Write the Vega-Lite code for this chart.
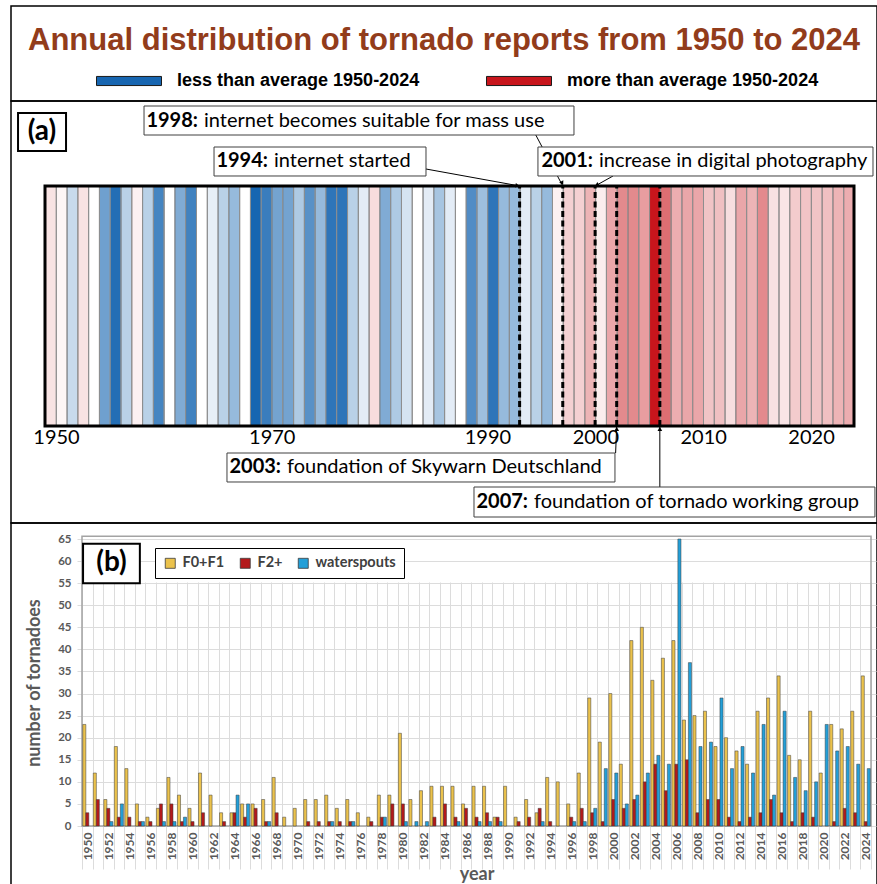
{
  "$schema": "https://vega.github.io/schema/vega-lite/v6.json",
  "background": "white",
  "padding": {"left": 10, "top": 5, "right": 0, "bottom": 0},
  "spacing": 0,
  "bounds": "flush",
  "resolve": {"scale": {"color": "independent", "fillOpacity": "independent"}, "legend": {"color": "independent"}},
  "config": {"font": "Lato", "view": {"stroke": "black", "strokeWidth": 1.5}, "axisY": {"labelOverlap": false}},
  "datasets": {
    "stripes": [
      {"year":1950,"category":"more than average 1950-2024","intensity":0.12},
      {"year":1951,"category":"more than average 1950-2024","intensity":0.04},
      {"year":1952,"category":"less than average 1950-2024","intensity":0.24},
      {"year":1953,"category":"more than average 1950-2024","intensity":0.12},
      {"year":1954,"category":"less than average 1950-2024","intensity":0},
      {"year":1955,"category":"less than average 1950-2024","intensity":0.62},
      {"year":1956,"category":"less than average 1950-2024","intensity":0.95},
      {"year":1957,"category":"less than average 1950-2024","intensity":0.3},
      {"year":1958,"category":"more than average 1950-2024","intensity":0.06},
      {"year":1959,"category":"less than average 1950-2024","intensity":0.3},
      {"year":1960,"category":"less than average 1950-2024","intensity":0.8},
      {"year":1961,"category":"less than average 1950-2024","intensity":0},
      {"year":1962,"category":"less than average 1950-2024","intensity":0.55},
      {"year":1963,"category":"less than average 1950-2024","intensity":0.82},
      {"year":1964,"category":"less than average 1950-2024","intensity":0},
      {"year":1965,"category":"less than average 1950-2024","intensity":0.1},
      {"year":1966,"category":"less than average 1950-2024","intensity":0.3},
      {"year":1967,"category":"less than average 1950-2024","intensity":0.45},
      {"year":1968,"category":"less than average 1950-2024","intensity":0},
      {"year":1969,"category":"less than average 1950-2024","intensity":1.0},
      {"year":1970,"category":"less than average 1950-2024","intensity":0.85},
      {"year":1971,"category":"less than average 1950-2024","intensity":0.6},
      {"year":1972,"category":"less than average 1950-2024","intensity":0.6},
      {"year":1973,"category":"less than average 1950-2024","intensity":0.35},
      {"year":1974,"category":"less than average 1950-2024","intensity":0.72},
      {"year":1975,"category":"less than average 1950-2024","intensity":0.45},
      {"year":1976,"category":"less than average 1950-2024","intensity":0.9},
      {"year":1977,"category":"less than average 1950-2024","intensity":0.9},
      {"year":1978,"category":"less than average 1950-2024","intensity":0.3},
      {"year":1979,"category":"less than average 1950-2024","intensity":0.12},
      {"year":1980,"category":"more than average 1950-2024","intensity":0.15},
      {"year":1981,"category":"less than average 1950-2024","intensity":0.55},
      {"year":1982,"category":"less than average 1950-2024","intensity":0.35},
      {"year":1983,"category":"less than average 1950-2024","intensity":0.18},
      {"year":1984,"category":"less than average 1950-2024","intensity":0},
      {"year":1985,"category":"less than average 1950-2024","intensity":0.12},
      {"year":1986,"category":"less than average 1950-2024","intensity":0.38},
      {"year":1987,"category":"less than average 1950-2024","intensity":0.12},
      {"year":1988,"category":"less than average 1950-2024","intensity":0},
      {"year":1989,"category":"less than average 1950-2024","intensity":0.75},
      {"year":1990,"category":"less than average 1950-2024","intensity":0.42},
      {"year":1991,"category":"less than average 1950-2024","intensity":0.9},
      {"year":1992,"category":"less than average 1950-2024","intensity":0.45},
      {"year":1993,"category":"less than average 1950-2024","intensity":0.45},
      {"year":1994,"category":"less than average 1950-2024","intensity":0.12},
      {"year":1995,"category":"less than average 1950-2024","intensity":0.3},
      {"year":1996,"category":"less than average 1950-2024","intensity":0.45},
      {"year":1997,"category":"more than average 1950-2024","intensity":0.06},
      {"year":1998,"category":"more than average 1950-2024","intensity":0.2},
      {"year":1999,"category":"more than average 1950-2024","intensity":0.2},
      {"year":2000,"category":"more than average 1950-2024","intensity":0.32},
      {"year":2001,"category":"more than average 1950-2024","intensity":0.08},
      {"year":2002,"category":"more than average 1950-2024","intensity":0.38},
      {"year":2003,"category":"more than average 1950-2024","intensity":0.5},
      {"year":2004,"category":"more than average 1950-2024","intensity":0.5},
      {"year":2005,"category":"more than average 1950-2024","intensity":0.42},
      {"year":2006,"category":"more than average 1950-2024","intensity":1.0},
      {"year":2007,"category":"more than average 1950-2024","intensity":0.62},
      {"year":2008,"category":"more than average 1950-2024","intensity":0.35},
      {"year":2009,"category":"more than average 1950-2024","intensity":0.38},
      {"year":2010,"category":"more than average 1950-2024","intensity":0.38},
      {"year":2011,"category":"more than average 1950-2024","intensity":0.25},
      {"year":2012,"category":"more than average 1950-2024","intensity":0.27},
      {"year":2013,"category":"more than average 1950-2024","intensity":0.14},
      {"year":2014,"category":"more than average 1950-2024","intensity":0.38},
      {"year":2015,"category":"more than average 1950-2024","intensity":0.32},
      {"year":2016,"category":"more than average 1950-2024","intensity":0.5},
      {"year":2017,"category":"more than average 1950-2024","intensity":0.13},
      {"year":2018,"category":"more than average 1950-2024","intensity":0.11},
      {"year":2019,"category":"more than average 1950-2024","intensity":0.22},
      {"year":2020,"category":"more than average 1950-2024","intensity":0.25},
      {"year":2021,"category":"more than average 1950-2024","intensity":0.25},
      {"year":2022,"category":"more than average 1950-2024","intensity":0.27},
      {"year":2023,"category":"more than average 1950-2024","intensity":0.32},
      {"year":2024,"category":"more than average 1950-2024","intensity":0.35}
    ],
    "events": [
      {"year":1994,"event":"internet started"},
      {"year":1998,"event":"internet becomes suitable for mass use"},
      {"year":2001,"event":"increase in digital photography"},
      {"year":2003,"event":"foundation of Skywarn Deutschland"},
      {"year":2007,"event":"foundation of tornado working group"}
    ],
    "bars": [
      {"year":1950,"type":"F0+F1","count":23},{"year":1950,"type":"F2+","count":3},
      {"year":1951,"type":"F0+F1","count":12},{"year":1951,"type":"F2+","count":6},
      {"year":1952,"type":"F0+F1","count":6},{"year":1952,"type":"F2+","count":4},{"year":1952,"type":"waterspouts","count":1},
      {"year":1953,"type":"F0+F1","count":18},{"year":1953,"type":"F2+","count":2},{"year":1953,"type":"waterspouts","count":5},
      {"year":1954,"type":"F0+F1","count":13},{"year":1954,"type":"F2+","count":2},
      {"year":1955,"type":"F0+F1","count":5},{"year":1955,"type":"F2+","count":1},{"year":1955,"type":"waterspouts","count":1},
      {"year":1956,"type":"F0+F1","count":2},{"year":1956,"type":"F2+","count":1},
      {"year":1957,"type":"F0+F1","count":4},{"year":1957,"type":"F2+","count":5},{"year":1957,"type":"waterspouts","count":1},
      {"year":1958,"type":"F0+F1","count":11},{"year":1958,"type":"F2+","count":5},{"year":1958,"type":"waterspouts","count":1},
      {"year":1959,"type":"F0+F1","count":7},{"year":1959,"type":"F2+","count":1},{"year":1959,"type":"waterspouts","count":2},
      {"year":1960,"type":"F0+F1","count":4},{"year":1960,"type":"F2+","count":1},
      {"year":1961,"type":"F0+F1","count":12},{"year":1961,"type":"F2+","count":3},
      {"year":1962,"type":"F0+F1","count":7},
      {"year":1963,"type":"F0+F1","count":3},{"year":1963,"type":"F2+","count":1},
      {"year":1964,"type":"F0+F1","count":3},{"year":1964,"type":"F2+","count":3},{"year":1964,"type":"waterspouts","count":7},
      {"year":1965,"type":"F0+F1","count":5},{"year":1965,"type":"F2+","count":2},{"year":1965,"type":"waterspouts","count":5},
      {"year":1966,"type":"F0+F1","count":5},{"year":1966,"type":"F2+","count":4},
      {"year":1967,"type":"F0+F1","count":6},{"year":1967,"type":"F2+","count":1},{"year":1967,"type":"waterspouts","count":1},
      {"year":1968,"type":"F0+F1","count":11},{"year":1968,"type":"F2+","count":3},
      {"year":1969,"type":"F0+F1","count":2},
      {"year":1970,"type":"F0+F1","count":4},
      {"year":1971,"type":"F0+F1","count":6},{"year":1971,"type":"F2+","count":1},
      {"year":1972,"type":"F0+F1","count":6},{"year":1972,"type":"F2+","count":1},
      {"year":1973,"type":"F0+F1","count":7},{"year":1973,"type":"F2+","count":1},{"year":1973,"type":"waterspouts","count":1},
      {"year":1974,"type":"F0+F1","count":4},{"year":1974,"type":"F2+","count":1},
      {"year":1975,"type":"F0+F1","count":6},{"year":1975,"type":"F2+","count":1},{"year":1975,"type":"waterspouts","count":1},
      {"year":1976,"type":"F0+F1","count":3},
      {"year":1977,"type":"F0+F1","count":2},{"year":1977,"type":"F2+","count":1},
      {"year":1978,"type":"F0+F1","count":7},{"year":1978,"type":"F2+","count":2},{"year":1978,"type":"waterspouts","count":2},
      {"year":1979,"type":"F0+F1","count":7},{"year":1979,"type":"F2+","count":5},
      {"year":1980,"type":"F0+F1","count":21},{"year":1980,"type":"F2+","count":5},{"year":1980,"type":"waterspouts","count":1},
      {"year":1981,"type":"F0+F1","count":6},{"year":1981,"type":"waterspouts","count":1},
      {"year":1982,"type":"F0+F1","count":8},{"year":1982,"type":"waterspouts","count":1},
      {"year":1983,"type":"F0+F1","count":9},{"year":1983,"type":"F2+","count":2},
      {"year":1984,"type":"F0+F1","count":9},{"year":1984,"type":"F2+","count":5},
      {"year":1985,"type":"F0+F1","count":9},{"year":1985,"type":"F2+","count":2},{"year":1985,"type":"waterspouts","count":1},
      {"year":1986,"type":"F0+F1","count":5},{"year":1986,"type":"F2+","count":4},
      {"year":1987,"type":"F0+F1","count":9},{"year":1987,"type":"F2+","count":2},{"year":1987,"type":"waterspouts","count":1},
      {"year":1988,"type":"F0+F1","count":9},{"year":1988,"type":"F2+","count":3},{"year":1988,"type":"waterspouts","count":1},
      {"year":1989,"type":"F0+F1","count":2},{"year":1989,"type":"F2+","count":2},{"year":1989,"type":"waterspouts","count":1},
      {"year":1990,"type":"F0+F1","count":9},
      {"year":1991,"type":"F0+F1","count":2},{"year":1991,"type":"F2+","count":1},
      {"year":1992,"type":"F0+F1","count":6},{"year":1992,"type":"F2+","count":2},
      {"year":1993,"type":"F0+F1","count":3},{"year":1993,"type":"F2+","count":4},{"year":1993,"type":"waterspouts","count":1},
      {"year":1994,"type":"F0+F1","count":11},{"year":1994,"type":"F2+","count":1},
      {"year":1995,"type":"F0+F1","count":10},
      {"year":1996,"type":"F0+F1","count":5},{"year":1996,"type":"F2+","count":2},{"year":1996,"type":"waterspouts","count":1},
      {"year":1997,"type":"F0+F1","count":12},{"year":1997,"type":"F2+","count":4},{"year":1997,"type":"waterspouts","count":1},
      {"year":1998,"type":"F0+F1","count":29},{"year":1998,"type":"F2+","count":3},{"year":1998,"type":"waterspouts","count":4},
      {"year":1999,"type":"F0+F1","count":19},{"year":1999,"type":"F2+","count":1},{"year":1999,"type":"waterspouts","count":13},
      {"year":2000,"type":"F0+F1","count":30},{"year":2000,"type":"F2+","count":6},{"year":2000,"type":"waterspouts","count":12},
      {"year":2001,"type":"F0+F1","count":14},{"year":2001,"type":"F2+","count":4},{"year":2001,"type":"waterspouts","count":5},
      {"year":2002,"type":"F0+F1","count":42},{"year":2002,"type":"F2+","count":6},{"year":2002,"type":"waterspouts","count":7},
      {"year":2003,"type":"F0+F1","count":45},{"year":2003,"type":"F2+","count":10},{"year":2003,"type":"waterspouts","count":12},
      {"year":2004,"type":"F0+F1","count":33},{"year":2004,"type":"F2+","count":14},{"year":2004,"type":"waterspouts","count":16},
      {"year":2005,"type":"F0+F1","count":38},{"year":2005,"type":"F2+","count":8},{"year":2005,"type":"waterspouts","count":14},
      {"year":2006,"type":"F0+F1","count":42},{"year":2006,"type":"F2+","count":14},{"year":2006,"type":"waterspouts","count":65},
      {"year":2007,"type":"F0+F1","count":24},{"year":2007,"type":"F2+","count":15},{"year":2007,"type":"waterspouts","count":37},
      {"year":2008,"type":"F0+F1","count":25},{"year":2008,"type":"F2+","count":3},{"year":2008,"type":"waterspouts","count":18},
      {"year":2009,"type":"F0+F1","count":26},{"year":2009,"type":"F2+","count":6},{"year":2009,"type":"waterspouts","count":19},
      {"year":2010,"type":"F0+F1","count":18},{"year":2010,"type":"F2+","count":6},{"year":2010,"type":"waterspouts","count":29},
      {"year":2011,"type":"F0+F1","count":20},{"year":2011,"type":"F2+","count":2},{"year":2011,"type":"waterspouts","count":13},
      {"year":2012,"type":"F0+F1","count":17},{"year":2012,"type":"F2+","count":1},{"year":2012,"type":"waterspouts","count":18},
      {"year":2013,"type":"F0+F1","count":14},{"year":2013,"type":"F2+","count":2},{"year":2013,"type":"waterspouts","count":12},
      {"year":2014,"type":"F0+F1","count":26},{"year":2014,"type":"F2+","count":3},{"year":2014,"type":"waterspouts","count":23},
      {"year":2015,"type":"F0+F1","count":29},{"year":2015,"type":"F2+","count":6},{"year":2015,"type":"waterspouts","count":7},
      {"year":2016,"type":"F0+F1","count":34},{"year":2016,"type":"F2+","count":3},{"year":2016,"type":"waterspouts","count":26},
      {"year":2017,"type":"F0+F1","count":16},{"year":2017,"type":"F2+","count":1},{"year":2017,"type":"waterspouts","count":11},
      {"year":2018,"type":"F0+F1","count":15},{"year":2018,"type":"F2+","count":3},{"year":2018,"type":"waterspouts","count":8},
      {"year":2019,"type":"F0+F1","count":26},{"year":2019,"type":"F2+","count":2},{"year":2019,"type":"waterspouts","count":10},
      {"year":2020,"type":"F0+F1","count":12},{"year":2020,"type":"waterspouts","count":23},
      {"year":2021,"type":"F0+F1","count":23},{"year":2021,"type":"F2+","count":1},{"year":2021,"type":"waterspouts","count":17},
      {"year":2022,"type":"F0+F1","count":22},{"year":2022,"type":"F2+","count":4},{"year":2022,"type":"waterspouts","count":18},
      {"year":2023,"type":"F0+F1","count":26},{"year":2023,"type":"F2+","count":3},{"year":2023,"type":"waterspouts","count":14},
      {"year":2024,"type":"F0+F1","count":34},{"year":2024,"type":"F2+","count":1},{"year":2024,"type":"waterspouts","count":13}
    ]
  },
  "vconcat": [
    {
      "width": 866,
      "height": 95,
      "data": {"values": [{"title": "Annual distribution of tornado reports from 1950 to 2024"}]},
      "mark": {"type": "text", "font": "Liberation Sans", "fontSize": 31, "fontWeight": "bold", "color": "#923c1b", "baseline": "middle"},
      "encoding": {
        "x": {"datum": 0.5, "type": "quantitative", "scale": {"domain": [0, 1], "nice": false, "zero": false}, "axis": null},
        "y": {"datum": 0.632, "type": "quantitative", "scale": {"domain": [0, 1], "nice": false, "zero": false}, "axis": null},
        "text": {"field": "title", "type": "nominal"}
      }
    },
    {
      "width": 866,
      "height": 422,
      "layer": [
        {
          "data": {"name": "stripes"},
          "mark": {"type": "rect", "stroke": "#8f8f8f", "strokeWidth": 1},
          "encoding": {
            "x": {"field": "year", "type": "quantitative", "bin": {"step": 1, "extent": [1950, 2025]},
                  "scale": {"domain": [1950, 2025], "range": [34, 843], "nice": false, "zero": false},
                  "axis": {"values": [1950, 1970, 1990, 2000, 2010, 2020], "format": "d", "labelOffset": 11, "labelFont": "Lato", "labelFontSize": 20, "labelColor": "black", "labelPadding": 1, "labelFlush": false, "labelOverlap": false, "domain": false, "ticks": false, "grid": false, "offset": -97, "title": null}},
            "y": {"datum": 0, "type": "quantitative", "scale": {"domain": [0, 1], "range": [325, 85], "nice": false, "zero": false}, "axis": null},
            "y2": {"datum": 1},
            "color": {"field": "category", "type": "nominal",
                      "scale": {"domain": ["less than average 1950-2024", "more than average 1950-2024"], "range": ["#1766b1", "#c8151c"]},
                      "legend": {"orient": "none", "legendX": 85, "legendY": -53, "direction": "horizontal", "title": null, "symbolType": "M-1,-0.14H1V0.14H-1Z", "symbolSize": 4225, "symbolStrokeColor": "#1a1a1a", "symbolStrokeWidth": 1, "labelFont": "Liberation Sans", "labelFontSize": 18, "labelFontWeight": "bold", "labelColor": "black", "labelOffset": 15, "columnPadding": 64, "labelLimit": 400}},
            "fillOpacity": {"field": "intensity", "type": "quantitative", "scale": {"domain": [0, 1], "range": [0, 1]}, "legend": null}
          }
        },
        {
          "data": {"values": [{"panel": "(a)"}]},
          "layer": [
            {"mark": {"type": "rect", "filled": false, "stroke": "black", "strokeWidth": 3},
             "encoding": {"x": {"datum": 1950, "type": "quantitative"}, "x2": {"datum": 2025}, "y": {"datum": 0, "type": "quantitative", "axis": null}, "y2": {"datum": 1}}},
            {"mark": {"type": "rect", "fill": "white", "stroke": "black", "strokeWidth": 2},
             "encoding": {"x": {"datum": 1947.5, "type": "quantitative"}, "x2": {"datum": 1951.95}, "y": {"datum": 1.304, "type": "quantitative", "axis": null}, "y2": {"datum": 1.146}}},
            {"mark": {"type": "text", "align": "center", "baseline": "middle", "fontSize": 28, "fontWeight": "bold", "color": "black"},
             "encoding": {"x": {"datum": 1949.72, "type": "quantitative"}, "y": {"datum": 1.225, "type": "quantitative", "axis": null}, "text": {"field": "panel", "type": "nominal"}}}
          ]
        },
        {
          "data": {"name": "events"},
          "mark": {"type": "rule", "color": "black", "strokeWidth": 3, "strokeDash": [6, 3.5]},
          "encoding": {"x": {"field": "year", "type": "quantitative"}, "y": {"datum": 0, "type": "quantitative", "axis": null}, "y2": {"datum": 1}}
        },
        {
          "data": {"name": "events"},
          "transform": [{"filter": "datum.year == 1998"}],
          "layer": [
            {"mark": {"type": "rule", "color": "black", "strokeWidth": 1},
             "encoding": {"x": {"datum": 1995.5, "type": "quantitative"}, "x2": {"datum": 1998}, "y": {"datum": 1.2125, "type": "quantitative", "axis": null}, "y2": {"datum": 1.0}}},
            {"mark": {"type": "point", "shape": "triangle-down", "filled": true, "color": "black", "size": 22, "angle": 332, "opacity": 1},
             "encoding": {"x": {"datum": 1997.95, "type": "quantitative"}, "y": {"datum": 1.012, "type": "quantitative", "axis": null}}},
            {"mark": {"type": "rect", "fill": "white", "stroke": "#404040", "strokeWidth": 1},
             "encoding": {"x": {"datum": 1959.18, "type": "quantitative"}, "x2": {"datum": 1999.04}, "y": {"datum": 1.3333, "type": "quantitative", "axis": null}, "y2": {"datum": 1.2125}}},
            {"mark": {"type": "text", "align": "right", "baseline": "middle", "fontSize": 20, "fontWeight": "bold", "color": "black"},
             "encoding": {"x": {"datum": 1964.18, "type": "quantitative"}, "y": {"datum": 1.2729, "type": "quantitative", "axis": null}, "text": {"value": "1998:"}}},
            {"mark": {"type": "text", "align": "left", "baseline": "middle", "dx": 6, "fontSize": 20, "color": "black"},
             "encoding": {"x": {"datum": 1964.18, "type": "quantitative"}, "y": {"datum": 1.2729, "type": "quantitative", "axis": null}, "text": {"field": "event", "type": "nominal"}}}
          ]
        },
        {
          "data": {"name": "events"},
          "transform": [{"filter": "datum.year == 1994"}],
          "layer": [
            {"mark": {"type": "rule", "color": "black", "strokeWidth": 1},
             "encoding": {"x": {"datum": 1985.32, "type": "quantitative"}, "x2": {"datum": 1994}, "y": {"datum": 1.0708, "type": "quantitative", "axis": null}, "y2": {"datum": 1.0}}},
            {"mark": {"type": "point", "shape": "triangle-down", "filled": true, "color": "black", "size": 22, "angle": 280, "opacity": 1},
             "encoding": {"x": {"datum": 1993.8, "type": "quantitative"}, "y": {"datum": 1.0017, "type": "quantitative", "axis": null}}},
            {"mark": {"type": "rect", "fill": "white", "stroke": "#404040", "strokeWidth": 1},
             "encoding": {"x": {"datum": 1965.67, "type": "quantitative"}, "x2": {"datum": 1985.32}, "y": {"datum": 1.1625, "type": "quantitative", "axis": null}, "y2": {"datum": 1.0417}}},
            {"mark": {"type": "text", "align": "right", "baseline": "middle", "fontSize": 20, "fontWeight": "bold", "color": "black"},
             "encoding": {"x": {"datum": 1970.67, "type": "quantitative"}, "y": {"datum": 1.1021, "type": "quantitative", "axis": null}, "text": {"value": "1994:"}}},
            {"mark": {"type": "text", "align": "left", "baseline": "middle", "dx": 6, "fontSize": 20, "color": "black"},
             "encoding": {"x": {"datum": 1970.67, "type": "quantitative"}, "y": {"datum": 1.1021, "type": "quantitative", "axis": null}, "text": {"field": "event", "type": "nominal"}}}
          ]
        },
        {
          "data": {"name": "events"},
          "transform": [{"filter": "datum.year == 2001"}],
          "layer": [
            {"mark": {"type": "rule", "color": "black", "strokeWidth": 1},
             "encoding": {"x": {"datum": 2002.66, "type": "quantitative"}, "x2": {"datum": 2001}, "y": {"datum": 1.0417, "type": "quantitative", "axis": null}, "y2": {"datum": 1.0}}},
            {"mark": {"type": "point", "shape": "triangle-down", "filled": true, "color": "black", "size": 22, "angle": 61, "opacity": 1},
             "encoding": {"x": {"datum": 2001.15, "type": "quantitative"}, "y": {"datum": 1.004, "type": "quantitative", "axis": null}}},
            {"mark": {"type": "rect", "fill": "white", "stroke": "#404040", "strokeWidth": 1},
             "encoding": {"x": {"datum": 1995.7, "type": "quantitative"}, "x2": {"datum": 2026.76}, "y": {"datum": 1.1625, "type": "quantitative", "axis": null}, "y2": {"datum": 1.0417}}},
            {"mark": {"type": "text", "align": "right", "baseline": "middle", "fontSize": 20, "fontWeight": "bold", "color": "black"},
             "encoding": {"x": {"datum": 2000.8, "type": "quantitative"}, "y": {"datum": 1.1021, "type": "quantitative", "axis": null}, "text": {"value": "2001:"}}},
            {"mark": {"type": "text", "align": "left", "baseline": "middle", "dx": 6, "fontSize": 20, "color": "black"},
             "encoding": {"x": {"datum": 2000.8, "type": "quantitative"}, "y": {"datum": 1.1021, "type": "quantitative", "axis": null}, "text": {"field": "event", "type": "nominal"}}}
          ]
        },
        {
          "data": {"name": "events"},
          "transform": [{"filter": "datum.year == 2003"}],
          "layer": [
            {"mark": {"type": "rule", "color": "black", "strokeWidth": 1},
             "encoding": {"x": {"datum": 2002.9, "type": "quantitative"}, "x2": {"datum": 2003}, "y": {"datum": -0.1125, "type": "quantitative", "axis": null}, "y2": {"datum": 0}}},
            {"mark": {"type": "point", "shape": "triangle-up", "filled": true, "color": "black", "size": 22, "opacity": 1},
             "encoding": {"x": {"datum": 2003, "type": "quantitative"}, "y": {"datum": -0.012, "type": "quantitative", "axis": null}}},
            {"mark": {"type": "rect", "fill": "white", "stroke": "#404040", "strokeWidth": 1},
             "encoding": {"x": {"datum": 1966.87, "type": "quantitative"}, "x2": {"datum": 2002.84}, "y": {"datum": -0.1125, "type": "quantitative", "axis": null}, "y2": {"datum": -0.2333}}},
            {"mark": {"type": "text", "align": "right", "baseline": "middle", "fontSize": 20, "fontWeight": "bold", "color": "black"},
             "encoding": {"x": {"datum": 1971.88, "type": "quantitative"}, "y": {"datum": -0.1729, "type": "quantitative", "axis": null}, "text": {"value": "2003:"}}},
            {"mark": {"type": "text", "align": "left", "baseline": "middle", "dx": 6, "fontSize": 20, "color": "black"},
             "encoding": {"x": {"datum": 1971.88, "type": "quantitative"}, "y": {"datum": -0.1729, "type": "quantitative", "axis": null}, "text": {"field": "event", "type": "nominal"}}}
          ]
        },
        {
          "data": {"name": "events"},
          "transform": [{"filter": "datum.year == 2007"}],
          "layer": [
            {"mark": {"type": "rule", "color": "black", "strokeWidth": 1},
             "encoding": {"x": {"datum": 2007, "type": "quantitative"}, "x2": {"datum": 2007}, "y": {"datum": -0.2542, "type": "quantitative", "axis": null}, "y2": {"datum": 0}}},
            {"mark": {"type": "point", "shape": "triangle-up", "filled": true, "color": "black", "size": 22, "opacity": 1},
             "encoding": {"x": {"datum": 2007, "type": "quantitative"}, "y": {"datum": -0.012, "type": "quantitative", "axis": null}}},
            {"mark": {"type": "rect", "fill": "white", "stroke": "#404040", "strokeWidth": 1},
             "encoding": {"x": {"datum": 1989.77, "type": "quantitative"}, "x2": {"datum": 2026.94}, "y": {"datum": -0.2542, "type": "quantitative", "axis": null}, "y2": {"datum": -0.3792}}},
            {"mark": {"type": "text", "align": "right", "baseline": "middle", "fontSize": 20, "fontWeight": "bold", "color": "black"},
             "encoding": {"x": {"datum": 1994.78, "type": "quantitative"}, "y": {"datum": -0.3167, "type": "quantitative", "axis": null}, "text": {"value": "2007:"}}},
            {"mark": {"type": "text", "align": "left", "baseline": "middle", "dx": 6, "fontSize": 20, "color": "black"},
             "encoding": {"x": {"datum": 1994.78, "type": "quantitative"}, "y": {"datum": -0.3167, "type": "quantitative", "axis": null}, "text": {"field": "event", "type": "nominal"}}}
          ]
        }
      ]
    },
    {
      "width": 866,
      "height": 362,
      "data": {"name": "bars"},
      "layer": [
        {
          "data": {"values": [{"panel": "(b)"}]},
          "layer": [
            {"mark": {"type": "rect", "filled": false, "stroke": "#a3a3a3", "strokeWidth": 1.5},
             "encoding": {"x": {"datum": 1950, "type": "quantitative"}, "x2": {"datum": 2025},
                          "y": {"datum": 65.6, "type": "quantitative", "axis": {"values": [0,5,10,15,20,25,30,35,40,45,50,55,60,65], "labelFont": "Lato", "labelFontSize": 11.5, "labelFontWeight": "bold", "labelColor": "#595959", "labelPadding": 5, "labelOverlap": false, "labelFlush": false, "ticks": false, "domain": false, "grid": true, "gridColor": "#dcdcdc", "gridWidth": 1, "offset": -65, "title": "number of tornadoes", "titleFont": "Lato", "titleFontSize": 18, "titleFontWeight": "bold", "titleColor": "#595959", "titlePadding": 14}},
                          "y2": {"datum": 0}}},
            {"mark": {"type": "rect", "fill": "white", "stroke": "black", "strokeWidth": 2},
             "encoding": {"x": {"datum": 1950.1, "type": "quantitative"}, "x2": {"datum": 1955.5},
                          "y": {"datum": 63.9, "type": "quantitative", "axis": {"values": [0,5,10,15,20,25,30,35,40,45,50,55,60,65], "labelFont": "Lato", "labelFontSize": 11.5, "labelFontWeight": "bold", "labelColor": "#595959", "labelPadding": 5, "labelOverlap": false, "labelFlush": false, "ticks": false, "domain": false, "grid": true, "gridColor": "#dcdcdc", "gridWidth": 1, "offset": -65, "title": "number of tornadoes", "titleFont": "Lato", "titleFontSize": 18, "titleFontWeight": "bold", "titleColor": "#595959", "titlePadding": 14}},
                          "y2": {"datum": 55.0}}},
            {"mark": {"type": "text", "align": "center", "baseline": "middle", "fontSize": 28, "fontWeight": "bold", "color": "black"},
             "encoding": {"x": {"datum": 1952.8, "type": "quantitative"},
                          "y": {"datum": 59.5, "type": "quantitative", "axis": {"values": [0,5,10,15,20,25,30,35,40,45,50,55,60,65], "labelFont": "Lato", "labelFontSize": 11.5, "labelFontWeight": "bold", "labelColor": "#595959", "labelPadding": 5, "labelOverlap": false, "labelFlush": false, "ticks": false, "domain": false, "grid": true, "gridColor": "#dcdcdc", "gridWidth": 1, "offset": -65, "title": "number of tornadoes", "titleFont": "Lato", "titleFontSize": 18, "titleFontWeight": "bold", "titleColor": "#595959", "titlePadding": 14}},
                          "text": {"field": "panel", "type": "nominal"}}}
          ]
        },
        {
          "transform": [{"filter": "datum.type == 'F0+F1'"}],
          "mark": {"type": "bar", "orient": "vertical", "width": 3.1, "xOffset": 2.3, "stroke": "#3a3a3a", "strokeWidth": 0.5},
          "encoding": {
            "x": {"field": "year", "type": "quantitative",
                  "scale": {"domain": [1950, 2025], "range": [66, 865], "nice": false, "zero": false},
                  "axis": {"tickCount": 75, "format": "d", "labelExpr": "datum.value % 2 == 0 ? datum.label : ''", "labelAngle": 270, "labelFont": "Lato", "labelFontSize": 12, "labelFontWeight": "bold", "labelColor": "#595959", "labelOffset": 5.3, "labelPadding": 5, "labelOverlap": false, "labelFlush": false, "ticks": false, "domain": false, "grid": true, "gridColor": "#dcdcdc", "gridWidth": 1, "offset": -58, "title": "year", "titleFont": "Lato", "titleFontSize": 18, "titleFontWeight": "bold", "titleColor": "#595959", "titlePadding": 6}},
            "y": {"field": "count", "type": "quantitative",
                  "scale": {"domain": [0, 65], "range": [303, 16], "nice": false, "zero": false},
                  "axis": {"values": [0,5,10,15,20,25,30,35,40,45,50,55,60,65], "labelFont": "Lato", "labelFontSize": 11.5, "labelFontWeight": "bold", "labelColor": "#595959", "labelPadding": 5, "labelOverlap": false, "labelFlush": false, "ticks": false, "domain": false, "grid": true, "gridColor": "#dcdcdc", "gridWidth": 1, "offset": -65, "title": "number of tornadoes", "titleFont": "Lato", "titleFontSize": 18, "titleFontWeight": "bold", "titleColor": "#595959", "titlePadding": 14}},
            "color": {"field": "type", "type": "nominal",
                      "scale": {"domain": ["F0+F1", "F2+", "waterspouts"], "range": ["#ebc24c", "#b3191b", "#239fd8"]},
                      "legend": {"orient": "none", "legendX": 144, "legendY": 25, "direction": "horizontal", "title": null, "strokeColor": "black", "fillColor": "white", "padding": 8, "symbolType": "square", "symbolSize": 100, "symbolStrokeColor": "#404040", "symbolStrokeWidth": 0.8, "labelFont": "Lato", "labelFontSize": 14.5, "labelFontWeight": "bold", "labelColor": "#404040", "labelOffset": 5, "columnPadding": 13}}
          }
        },
        {
          "transform": [{"filter": "datum.type == 'F2+'"}],
          "mark": {"type": "bar", "orient": "vertical", "width": 3.1, "xOffset": 5.3, "stroke": "#3a3a3a", "strokeWidth": 0.5},
          "encoding": {
            "x": {"field": "year", "type": "quantitative"},
            "y": {"field": "count", "type": "quantitative", "axis": {"values": [0,5,10,15,20,25,30,35,40,45,50,55,60,65], "labelFont": "Lato", "labelFontSize": 11.5, "labelFontWeight": "bold", "labelColor": "#595959", "labelPadding": 5, "labelOverlap": false, "labelFlush": false, "ticks": false, "domain": false, "grid": true, "gridColor": "#dcdcdc", "gridWidth": 1, "offset": -65, "title": "number of tornadoes", "titleFont": "Lato", "titleFontSize": 18, "titleFontWeight": "bold", "titleColor": "#595959", "titlePadding": 14}},
            "color": {"field": "type", "type": "nominal"}
          }
        },
        {
          "transform": [{"filter": "datum.type == 'waterspouts'"}],
          "mark": {"type": "bar", "orient": "vertical", "width": 3.1, "xOffset": 8.3, "stroke": "#3a3a3a", "strokeWidth": 0.5},
          "encoding": {
            "x": {"field": "year", "type": "quantitative"},
            "y": {"field": "count", "type": "quantitative", "axis": {"values": [0,5,10,15,20,25,30,35,40,45,50,55,60,65], "labelFont": "Lato", "labelFontSize": 11.5, "labelFontWeight": "bold", "labelColor": "#595959", "labelPadding": 5, "labelOverlap": false, "labelFlush": false, "ticks": false, "domain": false, "grid": true, "gridColor": "#dcdcdc", "gridWidth": 1, "offset": -65, "title": "number of tornadoes", "titleFont": "Lato", "titleFontSize": 18, "titleFontWeight": "bold", "titleColor": "#595959", "titlePadding": 14}},
            "color": {"field": "type", "type": "nominal"}
          }
        }
      ]
    }
  ]
}
